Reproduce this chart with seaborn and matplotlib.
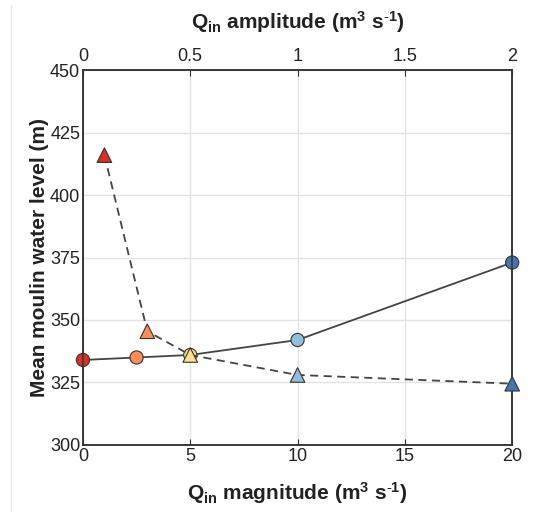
import matplotlib
matplotlib.use("Agg")
import matplotlib.pyplot as plt
import seaborn as sns
import pandas as pd
from matplotlib.lines import Line2D

sns.set_theme(style="white")
plt.rcParams['font.family'] = ['Liberation Sans', 'DejaVu Sans']
plt.rcParams['mathtext.fontset'] = 'custom'
plt.rcParams['mathtext.rm'] = 'Liberation Sans'
plt.rcParams['mathtext.bf'] = 'Liberation Sans:bold'
plt.rcParams['mathtext.it'] = 'Liberation Sans:italic'

# magnitude runs (circles, bottom axis)
magnitude = [0, 2.5, 5, 10, 20]
level_magnitude = [334, 335, 336, 342, 373]
# amplitude runs (triangles, top axis)
amplitude = [0.1, 0.3, 0.5, 1, 2]
level_amplitude = [416, 345.5, 336, 328, 324.5]
cores = ['#d73027', '#fc8d59', '#fee090', '#91bfdb', '#4575b4']

df_mag = pd.DataFrame({'x': magnitude, 'y': level_magnitude, 'c': range(5)})
df_amp = pd.DataFrame({'x': amplitude, 'y': level_amplitude, 'c': range(5)})

fig = plt.figure(figsize=(5.42, 5.12), dpi=100)
ax = fig.add_axes([0.153, 0.131, 0.792, 0.732])
ax2 = ax.twiny()

# borda clara do recorte original
fig.add_artist(Line2D([0.02, 0.02], [0, 0.99], transform=fig.transFigure,
                      color='#e6e6e6', lw=1))

sns.lineplot(data=df_mag, x='x', y='y', color='#444444', lw=1.3, ax=ax)
sns.scatterplot(data=df_mag, x='x', y='y', hue='c', palette=cores, s=90,
                edgecolor='#333333', linewidth=0.8, legend=False, ax=ax,
                clip_on=False, zorder=5)

sns.lineplot(data=df_amp, x='x', y='y', color='#444444', lw=1.3,
             dashes=False, ax=ax2)
ax2.lines[0].set_dashes([4.5, 3])
sns.scatterplot(data=df_amp, x='x', y='y', hue='c', palette=cores, s=110,
                marker='^', edgecolor='#333333', linewidth=0.8, legend=False,
                ax=ax2, clip_on=False, zorder=6)

ax.set_xlim(0, 20)
ax.set_ylim(300, 450)
ax2.set_xlim(0, 2)
ax2.set_ylim(300, 450)
ax.set_xticks([0, 5, 10, 15, 20])
ax.set_yticks([300, 325, 350, 375, 400, 425, 450])
ax2.set_xticks([0, 0.5, 1, 1.5, 2])
ax2.set_xticklabels(['0', '0.5', '1', '1.5', '2'])

ax.grid(True, color='#e3e3e3', lw=1)
ax.set_axisbelow(True)
for a in (ax, ax2):
    for s in a.spines.values():
        s.set_color('#333333')
        s.set_linewidth(1.1)
    a.tick_params(direction='in', length=4, width=0.8, colors='#333333',
                  labelsize=13, labelcolor='#222222')
ax.tick_params(axis='x', pad=2)
ax.tick_params(axis='y', pad=2)

sup = r'(m$^{\mathbf{3}}$ s$^{\mathbf{\text{-}1}}$)'
ax.set_xlabel(r'Q$_{\mathbf{in}}$ magnitude ' + sup,
              fontsize=15, fontweight='bold', color='#222222', labelpad=11)
ax2.set_xlabel(r'Q$_{\mathbf{in}}$ amplitude ' + sup,
               fontsize=15, fontweight='bold', color='#222222', labelpad=14)
ax.set_ylabel('Mean moulin water level (m)', fontsize=15, fontweight='bold',
              color='#222222', labelpad=1)

fig.savefig('out.png', dpi=100)
